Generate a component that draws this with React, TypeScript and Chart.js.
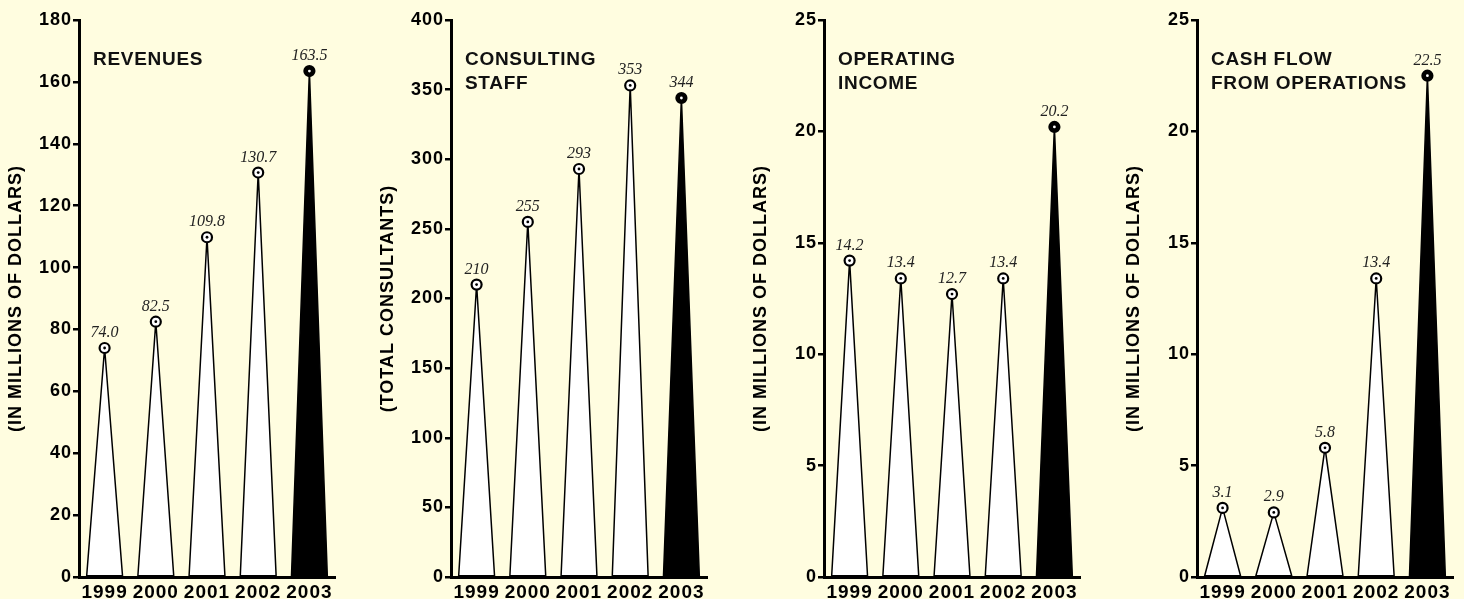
import { useEffect, useRef } from "react";
import { Chart, registerables } from "chart.js";

Chart.register(...registerables);

// ---- data ----
const years = ["1999", "2000", "2001", "2002", "2003"];
const revenues = [74.0, 82.5, 109.8, 130.7, 163.5];
const consultingStaff = [210, 255, 293, 353, 344];
const operatingIncome = [14.2, 13.4, 12.7, 13.4, 20.2];
const cashFlow = [3.1, 2.9, 5.8, 13.4, 22.5];

const panelTitles = [
  ["REVENUES"],
  ["CONSULTING", "STAFF"],
  ["OPERATING", "INCOME"],
  ["CASH FLOW", "FROM OPERATIONS"],
];
const axisTitles = [
  "(IN MILLIONS OF DOLLARS)",
  "(TOTAL CONSULTANTS)",
  "(IN MILLIONS OF DOLLARS)",
  "(IN MILLIONS OF DOLLARS)",
];
const axisMax = [180, 400, 25, 25];
const axisStep = [20, 50, 5, 5];
const labelDecimals = [1, 0, 1, 1];
const highlightIndex = 4;

const panelValues = [revenues, consultingStaff, operatingIncome, cashFlow];

// ---- layout ----
const BG = "#FFFDE0";
const SANS = '"Liberation Sans", Arial, sans-serif';
const SERIF = '"Liberation Serif", "Times New Roman", serif';
const canvasLefts = [0, 372, 745, 1118];
const CANVAS_W = 345;
const CANVAS_H = 599;

const spikePlugin = {
  id: "spikes",
  beforeDraw(chart: any) {
    (chart.ctx as any).letterSpacing = "1px";
  },
  afterDatasetsDraw(chart: any, _args: any, opts: any) {
    const ctx = chart.ctx as CanvasRenderingContext2D;
    const meta = chart.getDatasetMeta(0);
    const values: number[] = chart.data.datasets[0].data;
    ctx.save();
    // triangles
    meta.data.forEach((el: any, i: number) => {
      const { x, y, base, width } = el.getProps(["x", "y", "base", "width"], true);
      const dark = i === opts.highlight;
      ctx.beginPath();
      ctx.moveTo(x - width / 2, base);
      ctx.lineTo(x, y);
      ctx.lineTo(x + width / 2, base);
      ctx.closePath();
      ctx.fillStyle = dark ? "#000" : "#fff";
      ctx.fill();
      ctx.lineWidth = 1.5;
      ctx.strokeStyle = "#000";
      ctx.stroke();
    });
    // markers + labels
    meta.data.forEach((el: any, i: number) => {
      const { x, y } = el.getProps(["x", "y"], true);
      const dark = i === opts.highlight;
      ctx.beginPath();
      ctx.arc(x, y, 5, 0, Math.PI * 2);
      ctx.fillStyle = dark ? "#000" : "#fff";
      ctx.fill();
      ctx.lineWidth = 2.2;
      ctx.strokeStyle = "#000";
      ctx.stroke();
      ctx.beginPath();
      ctx.arc(x, y, 1.4, 0, Math.PI * 2);
      ctx.fillStyle = dark ? "#fff" : "#000";
      ctx.fill();

      (ctx as any).letterSpacing = "0px";
      ctx.font = `italic 16px ${SERIF}`;
      ctx.fillStyle = "#222";
      ctx.textAlign = "center";
      ctx.textBaseline = "alphabetic";
      ctx.fillText(values[i].toFixed(opts.decimals), x, y - 11);
    });
    // panel title
    const area = chart.chartArea;
    ctx.font = `bold 19px ${SANS}`;
    (ctx as any).letterSpacing = "0.7px";
    ctx.fillStyle = "#111";
    ctx.textAlign = "left";
    ctx.textBaseline = "alphabetic";
    (opts.title as string[]).forEach((line, k) => {
      ctx.fillText(line, area.left + 14, area.top + 45 + k * 24);
    });
    ctx.restore();
  },
};

function Panel({ idx }: { idx: number }) {
  const ref = useRef<HTMLCanvasElement>(null);
  useEffect(() => {
    if (!ref.current) return;
    const chart = new Chart(ref.current, {
      type: "bar",
      data: {
        labels: years,
        datasets: [
          {
            data: panelValues[idx],
            backgroundColor: "rgba(0,0,0,0)",
            borderWidth: 0,
            barPercentage: 0.7,
            categoryPercentage: 1,
          },
        ],
      },
      options: {
        responsive: false,
        animation: false,
        events: [],
        layout: { padding: { top: 20, right: 10, bottom: 0, left: 0 } },
        plugins: {
          legend: { display: false },
          tooltip: { enabled: false },
          spikes: {
            highlight: highlightIndex,
            title: panelTitles[idx],
            decimals: labelDecimals[idx],
          },
        } as any,
        scales: {
          x: {
            grid: { display: false, drawTicks: false },
            border: { display: true, color: "#000", width: 3 },
            ticks: {
              color: "#000",
              font: { family: SANS, size: 19, weight: "bold" },
              padding: 4,
              autoSkip: false,
              maxRotation: 0,
              minRotation: 0,
            },
            afterFit: (s: any) => {
              s.height = 22;
            },
          },
          y: {
            min: 0,
            max: axisMax[idx],
            ticks: {
              stepSize: axisStep[idx],
              color: "#000",
              font: { family: SANS, size: 18, weight: "bold" },
              padding: 1,
            },
            grid: {
              drawOnChartArea: false,
              drawTicks: true,
              tickLength: 6,
              color: "#000",
              lineWidth: 2.5,
            },
            border: { display: true, color: "#000", width: 3 },
            title: {
              display: true,
              text: axisTitles[idx],
              color: "#000",
              font: { family: SANS, size: 18, weight: "bold" },
              padding: { top: 5, bottom: 0 },
            },
            afterFit: (s: any) => {
              s.width = 79;
            },
          },
        },
      } as any,
      plugins: [spikePlugin as any],
    });
    return () => chart.destroy();
  }, [idx]);
  return (
    <canvas
      ref={ref}
      width={CANVAS_W}
      height={CANVAS_H}
      style={{
        position: "absolute",
        left: canvasLefts[idx],
        top: 0,
        width: CANVAS_W,
        height: CANVAS_H,
      }}
    />
  );
}

export default function App() {
  useEffect(() => {
    document.body.style.background = BG;
    document.body.style.margin = "0";
  }, []);
  return (
    <div
      style={{
        position: "absolute",
        left: 0,
        top: 0,
        width: 1464,
        height: 599,
        background: BG,
        overflow: "hidden",
      }}
    >
      {panelTitles.map((_, i) => (
        <Panel key={i} idx={i} />
      ))}
    </div>
  );
}
